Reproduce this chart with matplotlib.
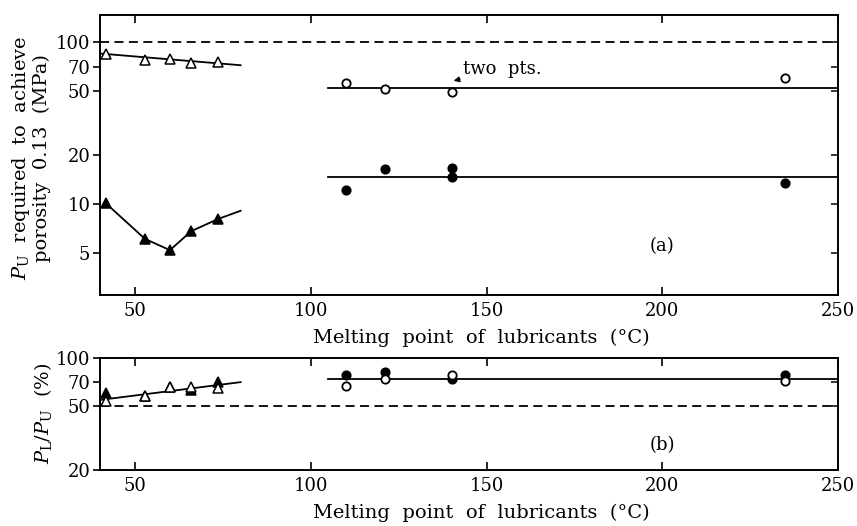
import matplotlib.pyplot as plt
import numpy as np

plt.rcParams['font.family'] = ['DejaVu Serif']
plt.rcParams['mathtext.fontset'] = 'dejavuserif'

# ---- data (a): P_U required to achieve porosity 0.13 (MPa) ----
tri_x = [41.7, 52.8, 59.9, 65.9, 73.6]
tri_open_a = [85, 78, 79, 74, 75]
tri_fill_a = [10.1, 6.1, 5.2, 6.8, 8.1]
tri_open_fit_x = [40, 80]
tri_open_fit_y = [85, 72]
tri_fill_line_x = [41.7, 52.8, 59.9, 65.9, 73.6, 80]
tri_fill_line_y = [10.1, 6.1, 5.2, 6.8, 8.1, 9.1]

circ_x = [110, 121, 140, 235]
circ_open_a = [55.6, 51.5, 49.1, 60.4]
circ_fill_x_a = [110, 121, 140, 140, 235]
circ_fill_a = [12.3, 16.4, 16.7, 14.7, 13.5]
circ_fit_x = [105, 250]
circ_open_fit_a = [52, 52]
circ_fill_fit_a = [14.8, 14.8]

# ---- data (b): P_L / P_U (%) ----
tri_open_b = [54, 57.6, 66, 66, 65]
tri_fill_b = [60.4, 57.6, 65.5, 63, 70]
tri_fit_b_x = [40, 80]
tri_fit_b_y = [54.5, 70.3]
circ_open_b = [66.8, 73.6, 77.4, 71.8]
circ_fill_b = [78.3, 80.9, 73.6, 78.3]
circ_fit_b = [73.9, 73.9]

yticks_a = [5, 10, 20, 50, 70, 100]
yticks_b = [20, 50, 70, 100]
xticks = [50, 100, 150, 200, 250]

xlab = 'Melting  point  of  lubricants  (°C)'

fig = plt.figure(figsize=(8.57, 5.26), dpi=100)
ax1 = fig.add_axes([0.1167, 0.4392, 0.8613, 0.5323])
ax2 = fig.add_axes([0.1167, 0.1065, 0.8613, 0.2138])

lw = 1.3
dash = (0, (5, 3))
mk_tri = dict(marker='^', markersize=6.5, markeredgecolor='black', markeredgewidth=1.1, linestyle='none')
mk_circ = dict(marker='o', markersize=6, markeredgecolor='black', markeredgewidth=1.3, linestyle='none')


def style(ax, ylim, yticks):
    ax.set_yscale('log')
    ax.set_xlim(40, 250)
    ax.set_ylim(*ylim)
    ax.set_yticks(yticks)
    ax.set_yticklabels([str(t) for t in yticks])
    ax.minorticks_off()
    ax.set_xticks(xticks)
    ax.tick_params(axis='x', direction='in', top=True, bottom=True, length=6, width=1.2,
                   labelsize=13, pad=5)
    ax.tick_params(axis='y', direction='out', right=False, length=5, width=1.2, labelsize=13, pad=2)
    for s in ax.spines.values():
        s.set_linewidth(1.4)
    tw = ax.twinx()
    tw.set_yscale('log')
    tw.set_ylim(*ylim)
    tw.set_yticks(yticks)
    tw.minorticks_off()
    tw.tick_params(axis='y', direction='in', length=5, width=1.1, labelright=False)
    for s in tw.spines.values():
        s.set_visible(False)
    return tw


style(ax1, (2.75, 147), yticks_a)
style(ax2, (20, 100), yticks_b)

# panel (a)
ax1.axhline(100, color='black', lw=lw, linestyle=dash)
ax1.plot(tri_open_fit_x, tri_open_fit_y, color='black', lw=lw)
ax1.plot(tri_fill_line_x, tri_fill_line_y, color='black', lw=lw)
ax1.plot(tri_x, tri_open_a, markerfacecolor='white', **mk_tri)
ax1.plot(tri_x, tri_fill_a, markerfacecolor='black', **mk_tri)
ax1.plot(circ_fit_x, circ_open_fit_a, color='black', lw=lw)
ax1.plot(circ_fit_x, circ_fill_fit_a, color='black', lw=lw)
ax1.plot(circ_x, circ_open_a, markerfacecolor='white', **mk_circ)
ax1.plot(circ_fill_x_a, circ_fill_a, markerfacecolor='black', **mk_circ)
ax1.annotate('two  pts.', xy=(140.6, 57.7), xytext=(143.2, 68.2), fontsize=13, va='center',
             arrowprops=dict(arrowstyle='-|>', color='black', lw=1.0, mutation_scale=8,
                             shrinkA=0, shrinkB=0))
ax1.text(200, 5.5, '(a)', fontsize=13, ha='center', va='center')
ax1.set_ylabel('$P_{\\rm U}$  required  to  achieve\nporosity  0.13  (MPa)', fontsize=14,
               linespacing=1.05)
ax1.yaxis.set_label_coords(-0.066, 0.49)
ax1.set_xlabel(xlab, fontsize=14)
ax1.xaxis.set_label_coords(0.516, -0.12)

# panel (b)
ax2.axhline(50, color='black', lw=lw, linestyle=dash)
ax2.plot(tri_fit_b_x, tri_fit_b_y, color='black', lw=lw)
ax2.plot(tri_x, tri_fill_b, markerfacecolor='black', **mk_tri)
ax2.plot(tri_x, tri_open_b, markerfacecolor='white', **mk_tri)
ax2.plot(circ_fit_x, circ_fit_b, color='black', lw=lw)
ax2.plot(circ_x, circ_fill_b, markerfacecolor='black', **mk_circ)
ax2.plot(circ_x, circ_open_b, markerfacecolor='white', **mk_circ)
ax2.text(200, 28.5, '(b)', fontsize=13, ha='center', va='center')
ax2.set_ylabel('$P_{\\rm L}/P_{\\rm U}$  (%)', fontsize=14)
ax2.yaxis.set_label_coords(-0.062, 0.5)
ax2.set_xlabel(xlab, fontsize=14)
ax2.xaxis.set_label_coords(0.516, -0.30)

fig.savefig('out.png', dpi=100)
